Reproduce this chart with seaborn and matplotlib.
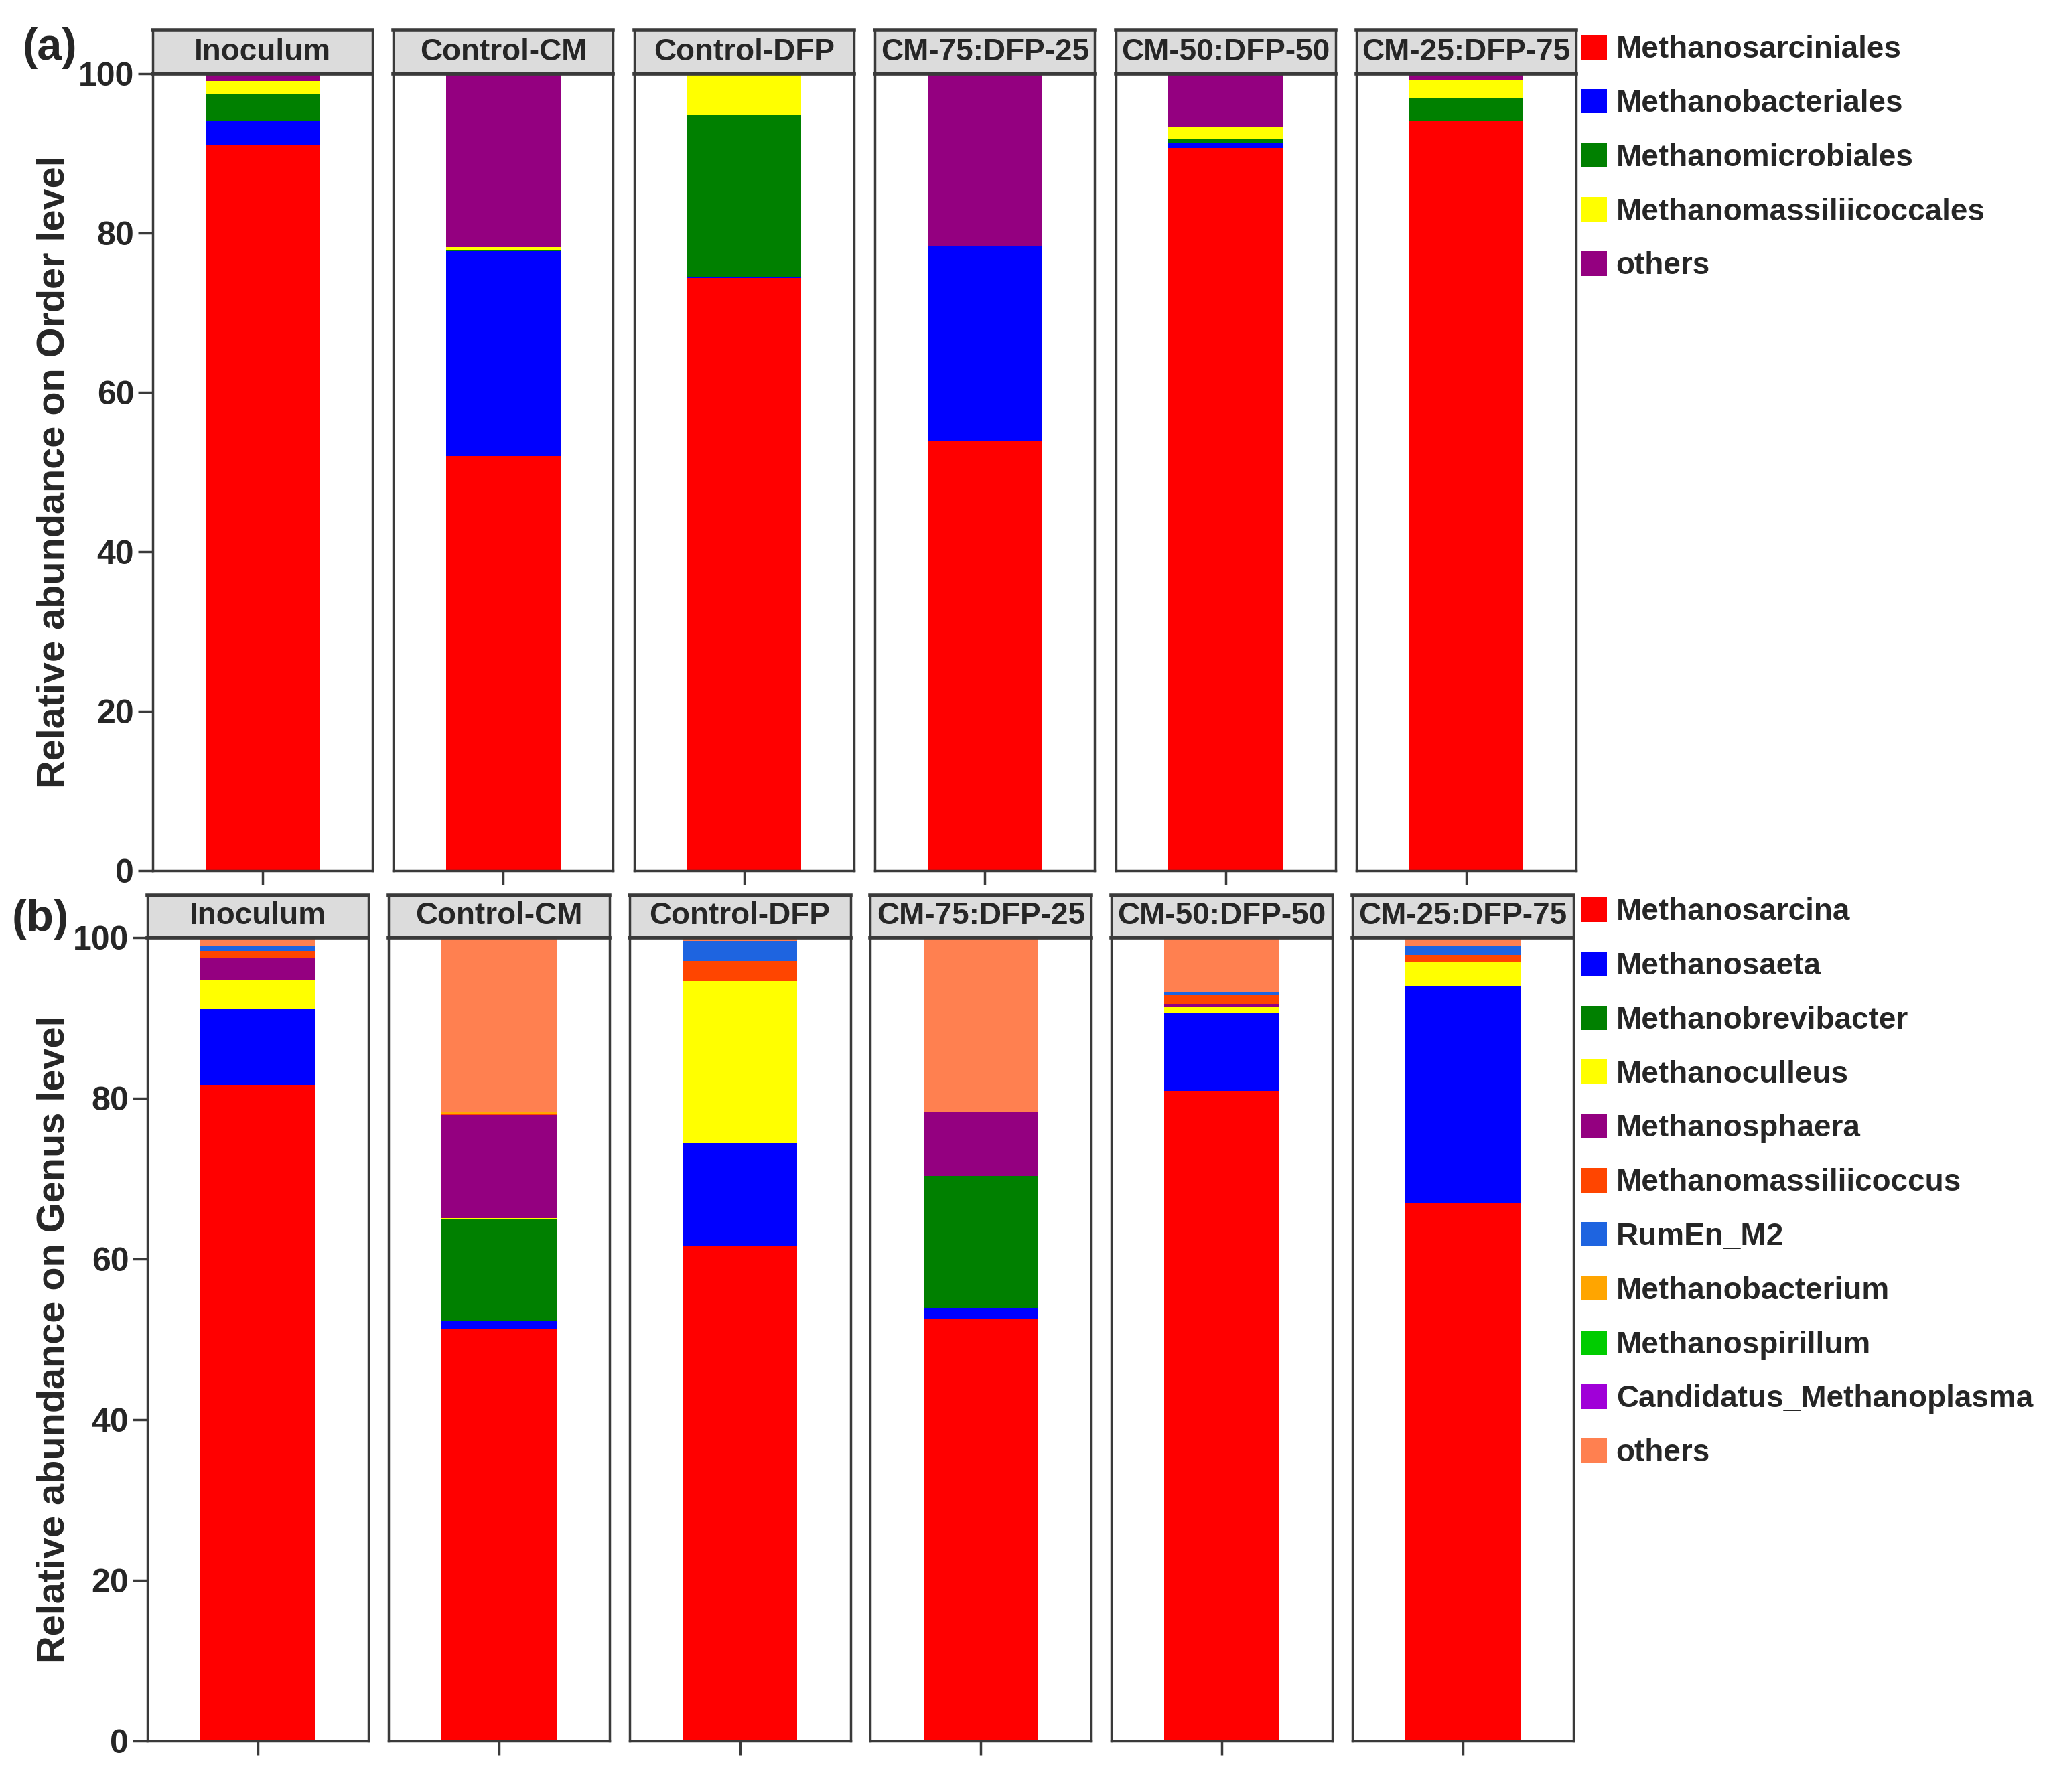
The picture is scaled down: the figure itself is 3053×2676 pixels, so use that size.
import numpy as np
import pandas as pd
import matplotlib
matplotlib.use('Agg')
import matplotlib.pyplot as plt
from matplotlib.patches import Patch
import seaborn as sns

W, H = 3053, 2676

samples = ['Inoculum', 'Control-CM', 'Control-DFP', 'CM-75:DFP-25', 'CM-50:DFP-50', 'CM-25:DFP-75']

# (a) order level, values per sample (%)
order_taxa = ['Methanosarciniales', 'Methanobacteriales', 'Methanomicrobiales',
              'Methanomassiliicoccales', 'others']
order_colors = ['#FF0000', '#0000FF', '#008000', '#FFFF00', '#940080']
methanosarciniales = [91.0, 52.0, 74.4, 53.9, 90.7, 94.0]
methanobacteriales = [3.0, 25.7, 0.1, 24.5, 0.6, 0.0]
methanomicrobiales = [3.5, 0.1, 20.4, 0.0, 0.5, 3.0]
methanomassiliicoccales = [1.6, 0.4, 5.1, 0.0, 1.6, 2.2]
order_others = [0.9, 21.8, 0.0, 21.6, 6.6, 0.8]

# (b) genus level
genus_taxa = ['Methanosarcina', 'Methanosaeta', 'Methanobrevibacter', 'Methanoculleus',
              'Methanosphaera', 'Methanomassiliicoccus', 'RumEn_M2', 'Methanobacterium',
              'Methanospirillum', 'Candidatus_Methanoplasma', 'others']
genus_colors = ['#FF0000', '#0000FF', '#008000', '#FFFF00', '#940080', '#FF4500',
                '#1E64E0', '#FFA500', '#00CC00', '#A000D8', '#FF8050']
methanosarcina = [81.7, 51.3, 61.6, 52.6, 80.9, 66.9]
methanosaeta = [9.4, 1.0, 12.8, 1.3, 9.8, 27.0]
methanobrevibacter = [0.0, 12.7, 0.0, 16.4, 0.0, 0.0]
methanoculleus = [3.6, 0.1, 20.2, 0.0, 0.6, 3.0]
methanosphaera = [2.7, 12.8, 0.0, 8.0, 0.4, 0.0]
methanomassiliicoccus = [0.9, 0.2, 2.5, 0.0, 1.1, 0.9]
rumen_m2 = [0.6, 0.0, 2.5, 0.0, 0.4, 1.2]
methanobacterium = [0.0, 0.2, 0.0, 0.0, 0.0, 0.0]
methanospirillum = [0.0, 0.0, 0.0, 0.0, 0.0, 0.0]
candidatus_methanoplasma = [0.0, 0.0, 0.0, 0.0, 0.0, 0.0]
genus_others = [1.1, 21.7, 0.4, 21.7, 6.8, 1.0]

order_df = pd.DataFrame(dict(zip(order_taxa, [methanosarciniales, methanobacteriales,
                                              methanomicrobiales, methanomassiliicoccales,
                                              order_others])), index=samples)
genus_df = pd.DataFrame(dict(zip(genus_taxa, [methanosarcina, methanosaeta, methanobrevibacter,
                                              methanoculleus, methanosphaera, methanomassiliicoccus,
                                              rumen_m2, methanobacterium, methanospirillum,
                                              candidatus_methanoplasma, genus_others])), index=samples)

sns.set_style('white')
plt.rcParams['font.family'] = ['Liberation Sans', 'DejaVu Sans']
plt.rcParams['font.weight'] = 'bold'

EDGE = '#3a3a3a'
fig = plt.figure(figsize=(W / 100, H / 100), dpi=100)


def fx(px):
    return px / W


def fy(px):
    return 1 - px / H


def draw_row(df, colors, left0, step, pw, top, bottom, strip_top, ylabel, tag, tag_xy, leg_xy):
    cum = df.cumsum(axis=1)
    for i, s in enumerate(samples):
        ax = fig.add_axes([fx(left0 + i * step), fy(bottom), fx(pw), (bottom - top) / H])
        # draw cumulative bars from the top layer down so each hides the one below
        for k in range(len(df.columns) - 1, -1, -1):
            d = pd.DataFrame({'sample': [s], 'value': [cum.iloc[i, k]]})
            sns.barplot(data=d, x='sample', y='value', color=colors[k], saturation=1,
                        width=0.52, linewidth=0, edgecolor='none', errorbar=None, ax=ax)
        ax.set_xlim(-0.5, 0.5)
        ax.set_ylim(0, 100)
        ax.set_xlabel('')
        ax.set_ylabel('')
        ax.set_xticks([0])
        ax.set_xticklabels([''])
        ax.tick_params(axis='x', length=15, width=2.5, color=EDGE, direction='out', bottom=True)
        for sp in ax.spines.values():
            sp.set_visible(True)
            sp.set_color(EDGE)
            sp.set_linewidth(2.5)
        if i == 0:
            ax.set_yticks([0, 20, 40, 60, 80, 100])
            ax.tick_params(axis='y', length=16, width=2.5, color=EDGE, direction='out',
                           left=True, labelsize=36, pad=4)
            for t in ax.get_yticklabels():
                t.set_fontweight('bold')
        else:
            ax.set_yticks([])
        # facet strip
        sax = fig.add_axes([fx(left0 + i * step), fy(top), fx(pw), (top - strip_top) / H])
        sax.set_facecolor('#DCDCDC')
        sax.set_xticks([])
        sax.set_yticks([])
        for sp in sax.spines.values():
            sp.set_color(EDGE)
            sp.set_linewidth(2.5)
        sax.spines['top'].set_linewidth(4)
        sax.spines['bottom'].set_linewidth(4)
        sax.text(0.5, 0.5, s, ha='center', va='center', fontsize=33, fontweight='bold',
                 transform=sax.transAxes)
    fig.text(fx(81), fy((top + bottom) / 2), ylabel, rotation=90, ha='center', va='center',
             fontsize=41.5, fontweight='bold')
    fig.text(fx(tag_xy[0]), fy(tag_xy[1]), tag, ha='left', va='center', fontsize=48,
             fontweight='bold')
    handles = [Patch(facecolor=c, edgecolor='none') for c in colors]
    fig.legend(handles, list(df.columns), loc='upper left', bbox_to_anchor=(fx(leg_xy[0]), fy(leg_xy[1])),
               frameon=False, fontsize=33, handlelength=0.85, handleheight=0.85,
               handletextpad=0.3, labelspacing=0.8, borderaxespad=0, borderpad=0,
               prop={'weight': 'bold', 'size': 33})


draw_row(order_df, order_colors, 228, 359.4, 328, 110, 1300, 45,
         'Relative abundance on Order level', '(a)', (34, 72), (2360, 52))
draw_row(genus_df, genus_colors, 220, 359.8, 330, 1400, 2600, 1337,
         'Relative abundance on Genus level', '(b)', (18, 1373), (2360, 1340))

fig.savefig('out.png', dpi=100, facecolor='white')
